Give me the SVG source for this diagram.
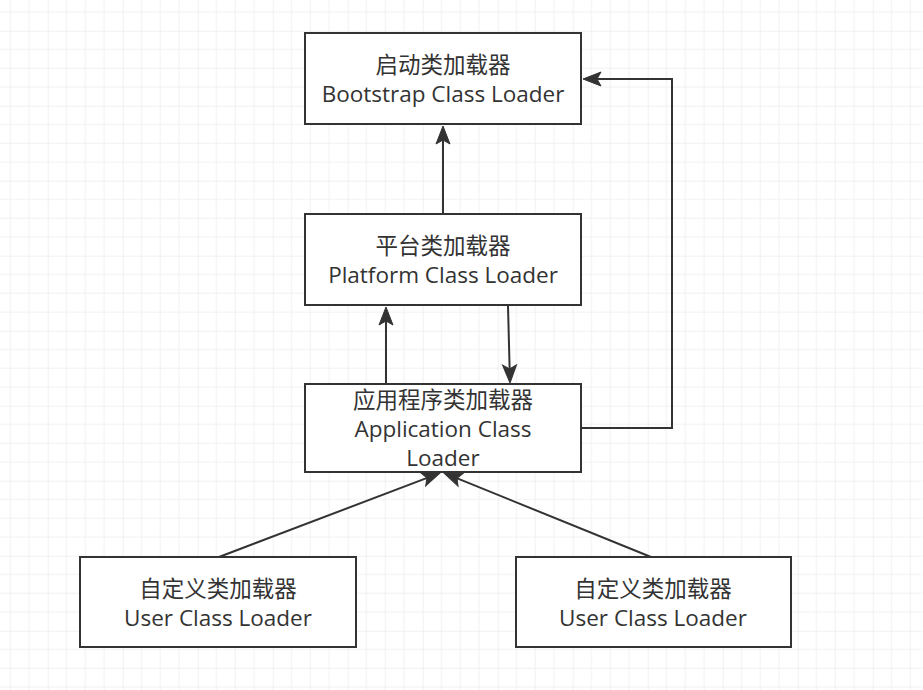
<svg xmlns="http://www.w3.org/2000/svg" width="923" height="690" viewBox="0 0 923 690">
<style>
  .box { fill: #ffffff; stroke: #333333; stroke-width: 2; }
  .lbl { font-family: "Open Sans", "Noto Sans CJK SC", sans-serif; font-size: 22.5px; fill: #333333; text-anchor: middle; }
  .edge { fill: none; stroke: #333333; stroke-width: 2; marker-end: url(#arr); }
</style>
<defs>
  <pattern id="grid" x="47.7" y="30.7" width="75" height="75" patternUnits="userSpaceOnUse">
    <path d="M18.75,0 V75 M37.5,0 V75 M56.25,0 V75 M0,18.75 H75 M0,37.5 H75 M0,56.25 H75" stroke="#f1f1f1" stroke-width="1" fill="none"/>
    <path d="M0,0 V75 M0,0 H75" stroke="#e3e3e3" stroke-width="1" fill="none"/>
  </pattern>
  <marker id="arr" markerUnits="userSpaceOnUse" viewBox="-20 -9 22 18" markerWidth="22" markerHeight="18" refX="-13" refY="0" orient="auto">
    <path d="M0,0 L-18,-7 L-14,0 L-18,7 Z" fill="#333333" stroke="#333333" stroke-width="1" stroke-linejoin="miter"/>
  </marker>
</defs>
<rect width="923" height="690" fill="#ffffff"/>
<rect width="923" height="690" fill="url(#grid)"/>

<g id="connectors">
  <path class="edge" d="M443,214 V139"/>
  <path class="edge" d="M386,384 V320"/>
  <path class="edge" d="M508,306 L509.66,370"/>
  <path class="edge" d="M581,428 H672 V79 H596"/>
  <path class="edge" d="M219,557 L427.85,477.6"/>
  <path class="edge" d="M651,557 L456.05,477.9"/>
</g>

<g id="bootstrap">
  <rect class="box" x="305" y="33" width="276" height="91"/>
  <text class="lbl"><tspan x="443" y="72.5">启动类加载器</tspan><tspan x="443" y="101.5">Bootstrap Class Loader</tspan></text>
</g>
<g id="platform">
  <rect class="box" x="305" y="214" width="276" height="91"/>
  <text class="lbl"><tspan x="443" y="253.5">平台类加载器</tspan><tspan x="443" y="282.5">Platform Class Loader</tspan></text>
</g>
<g id="application">
  <rect class="box" x="305" y="384" width="276" height="88"/>
  <text class="lbl"><tspan x="443" y="408">应用程序类加载器</tspan><tspan x="443" y="437">Application Class</tspan><tspan x="443" y="466">Loader</tspan></text>
</g>
<g id="user1">
  <rect class="box" x="80" y="557" width="276" height="90"/>
  <text class="lbl"><tspan x="218" y="596.5">自定义类加载器</tspan><tspan x="218" y="625.5">User Class Loader</tspan></text>
</g>
<g id="user2">
  <rect class="box" x="516" y="557" width="275" height="90"/>
  <text class="lbl"><tspan x="653" y="596.5">自定义类加载器</tspan><tspan x="653" y="625.5">User Class Loader</tspan></text>
</g>
</svg>
